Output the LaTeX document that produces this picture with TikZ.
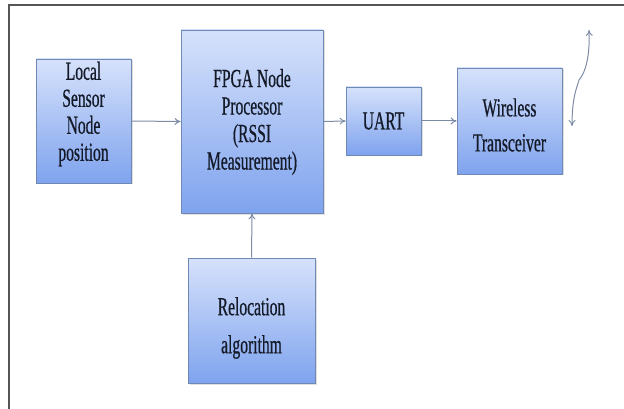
\documentclass[tikz,border=0pt]{standalone}
\usepackage{fontspec}
\setmainfont{Liberation Serif}
\newfontfamily\boxfont[FakeStretch=0.6,FakeBold=0.6]{Liberation Serif}
\usetikzlibrary{arrows.meta,shadows}
\definecolor{boxtop}{HTML}{D6E2FB}
\definecolor{boxbot}{HTML}{7FA3EE}
\definecolor{boxedge}{HTML}{6F88B4}
\definecolor{boxtext}{HTML}{141A28}
\definecolor{linkcol}{HTML}{7C8CA6}
\definecolor{framecol}{HTML}{555555}
\tikzset{
  block/.style={draw=boxedge, line width=0.8pt, top color=boxtop, bottom color=boxbot,
    inner sep=0pt,
    drop shadow={shadow xshift=1.5pt, shadow yshift=-1.5pt, opacity=0.25}},
  caption/.style={align=center, inner sep=0pt, text=boxtext,
    font=\boxfont\fontsize{26}{#1}\selectfont},
  caption/.default=27,
  link/.style={draw=linkcol, line width=1pt, -{To[length=6pt,width=7pt]}}
}
\begin{document}
\begin{tikzpicture}[x=1pt,y=-1pt]
  \useasboundingbox (0,0) rectangle (624,409);
  % frame lines
  \draw[framecol, line width=2pt] (9,409) -- (9,5) -- (624,5);
  % blocks
  \node[block, minimum width=95pt, minimum height=124pt] (local) at (83.5,121) {};
  \node[block, minimum width=142pt, minimum height=183pt] (fpga) at (252,121.5) {};
  \node[block, minimum width=75pt, minimum height=68pt] (uart) at (383.5,121) {};
  \node[block, minimum width=105pt, minimum height=106pt] (wtx) at (509.5,121) {};
  \node[block, minimum width=127pt, minimum height=125pt] (reloc) at (251.5,320.5) {};
  % block captions
  \node[caption=27] (localtxt) at (83.5,114) {Local\\Sensor\\Node\\position};
  \node[caption=27.5] (fpgatxt) at (252,122) {FPGA Node\\Processor\\(RSSI\\Measurement)};
  \node[caption] (uarttxt) at (383.5,121) {UART};
  \node[caption=35] (wtxtxt) at (509.5,125) {Wireless\\Transceiver};
  \node[caption=38] (reloctxt) at (251.5,328) {Relocation\\algorithm};
  % connectors
  \draw[link] (local.east) -- (fpga.west);
  \draw[link] (fpga.east) -- (uart.west);
  \draw[link] (uart.east) -- (wtx.west);
  \draw[link] (reloc.north) -- (fpga.south);
  % antenna link
  \coordinate (ant1) at (572,126);
  \coordinate (ant2) at (589,30);
  \draw[draw=linkcol, line width=1pt, {To[length=6pt,width=7pt]}-{To[length=6pt,width=7pt]}]
    (ant1) .. controls (572,95) and (578,85) .. (579,80)
           .. controls (586,72) and (590,55) .. (ant2);
\end{tikzpicture}
\end{document}
